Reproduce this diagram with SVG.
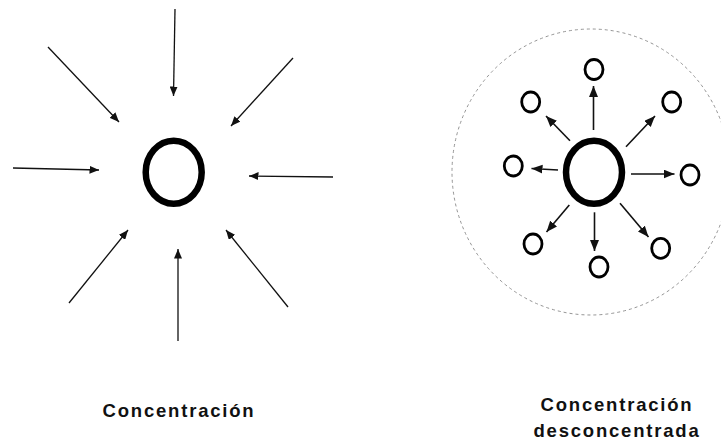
<svg xmlns="http://www.w3.org/2000/svg" width="721" height="444" viewBox="0 0 721 444">
<style>
.bg{fill:#fff}
.hub{fill:none;stroke:#000;stroke-width:6.5}
.sat{fill:none;stroke:#000;stroke-width:2.8}
.in{stroke:#111;stroke-width:1.3;fill:none}
.out{stroke:#111;stroke-width:1.6;fill:none}
.zone{fill:none;stroke:#888;stroke-width:0.9;stroke-dasharray:3 3}
.lbl{font-family:"Liberation Sans",Arial,sans-serif;font-size:18.5px;font-weight:bold;letter-spacing:1.8px;fill:#111;text-anchor:middle}
</style>
<defs>
<marker id="ah" markerUnits="userSpaceOnUse" markerWidth="10" markerHeight="8" refX="9.5" refY="4" orient="auto">
<path d="M0,0 L9.5,4 L0,8 z" fill="#111"/>
</marker>
<marker id="ah2" markerUnits="userSpaceOnUse" markerWidth="12" markerHeight="10" refX="11" refY="4.5" orient="auto">
<path d="M0,0 L11,4.5 L0,9 z" fill="#111"/>
</marker>
</defs>
<rect class="bg" x="0" y="0" width="721" height="444"/>

<g id="concentracion">
<ellipse id="hub-left" class="hub" cx="173.7" cy="172.2" rx="28" ry="31.5"/>
</g>

<g id="zone-right">
<ellipse class="zone" cx="591" cy="172" rx="139" ry="143"/>
</g>
<g id="hub-right">
<ellipse class="hub" cx="594" cy="172.3" rx="28" ry="31.5"/>
</g>
<g id="sat-n"><ellipse class="sat" cx="594" cy="69.5" rx="9" ry="10"/></g>
<g id="sat-nw"><ellipse class="sat" cx="530.7" cy="102" rx="9" ry="10"/></g>
<g id="sat-ne"><ellipse class="sat" cx="671.7" cy="102" rx="9" ry="10"/></g>
<g id="sat-w"><ellipse class="sat" cx="513.3" cy="166" rx="9" ry="10"/></g>
<g id="sat-e"><ellipse class="sat" cx="690" cy="175" rx="9" ry="10"/></g>
<g id="sat-sw"><ellipse class="sat" cx="533" cy="244" rx="9" ry="10"/></g>
<g id="sat-s"><ellipse class="sat" cx="599" cy="267" rx="9" ry="10"/></g>
<g id="sat-se"><ellipse class="sat" cx="660.7" cy="248.3" rx="9" ry="10"/></g>

<g id="connectors">
<g id="inward">
<line class="in" x1="175" y1="9" x2="173.5" y2="96" marker-end="url(#ah)"/>
<line class="in" x1="48" y1="47" x2="119" y2="122" marker-end="url(#ah)"/>
<line class="in" x1="293" y1="58" x2="231" y2="126" marker-end="url(#ah)"/>
<line class="in" x1="13" y1="168" x2="99" y2="170" marker-end="url(#ah)"/>
<line class="in" x1="333" y1="177" x2="249" y2="176" marker-end="url(#ah)"/>
<line class="in" x1="69" y1="303" x2="128" y2="230" marker-end="url(#ah)"/>
<line class="in" x1="178" y1="341" x2="178" y2="249" marker-end="url(#ah)"/>
<line class="in" x1="288" y1="307" x2="226" y2="230" marker-end="url(#ah)"/>
</g>
<g id="outward">
<line class="out" x1="593.5" y1="130" x2="593.5" y2="86" marker-end="url(#ah2)"/>
<line class="out" x1="570" y1="140.7" x2="546" y2="116" marker-end="url(#ah2)"/>
<line class="out" x1="626" y1="146.7" x2="655" y2="116" marker-end="url(#ah2)"/>
<line class="out" x1="558" y1="170" x2="531.5" y2="168.5" marker-end="url(#ah2)"/>
<line class="out" x1="631" y1="174" x2="674.5" y2="174" marker-end="url(#ah2)"/>
<line class="out" x1="569.3" y1="205" x2="546.5" y2="232" marker-end="url(#ah2)"/>
<line class="out" x1="594.5" y1="212.3" x2="594.5" y2="251" marker-end="url(#ah2)"/>
<line class="out" x1="620" y1="203.3" x2="648.5" y2="237" marker-end="url(#ah2)"/>
</g>
</g>

<g id="labels">
<text class="lbl" x="179" y="417">Concentración</text>
<text class="lbl" x="617" y="411">Concentración</text>
<text class="lbl" x="617" y="437">desconcentrada</text>
</g>
</svg>
